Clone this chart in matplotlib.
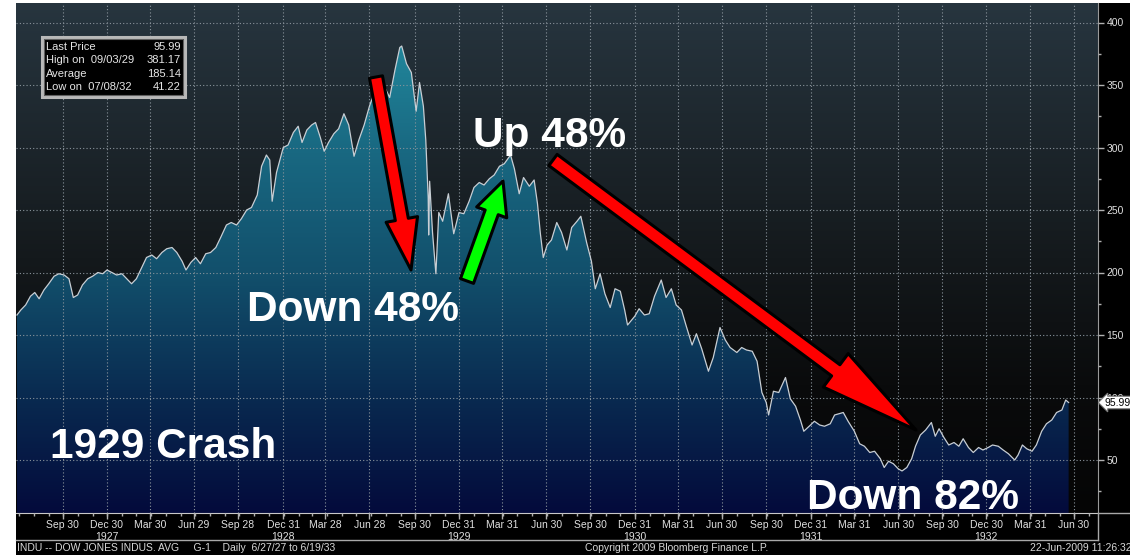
import matplotlib
matplotlib.use("Agg")
import matplotlib.pyplot as plt
import matplotlib.dates as mdates
import numpy as np
import pandas as pd
from matplotlib.colors import LinearSegmentedColormap
from matplotlib.patches import Rectangle
from matplotlib.lines import Line2D

W, H = 1130, 555

# Dow Jones Industrial Average
dates = [
    "1927-06-27", "1927-07-05", "1927-07-15", "1927-07-25", "1927-08-03", "1927-08-12",
    "1927-08-22", "1927-09-01", "1927-09-12", "1927-09-22", "1927-10-03", "1927-10-13",
    "1927-10-22", "1927-10-31", "1927-11-10", "1927-11-21", "1927-12-01", "1927-12-12",
    "1927-12-22", "1927-12-31", "1928-01-10", "1928-01-20", "1928-01-31", "1928-02-10",
    "1928-02-20", "1928-03-01", "1928-03-12", "1928-03-22", "1928-04-02", "1928-04-12",
    "1928-04-23", "1928-05-03", "1928-05-14", "1928-05-24", "1928-06-04", "1928-06-12",
    "1928-06-22", "1928-07-02", "1928-07-12", "1928-07-23", "1928-08-02", "1928-08-13",
    "1928-08-23", "1928-09-04", "1928-09-14", "1928-09-25", "1928-10-05", "1928-10-16",
    "1928-10-26", "1928-11-07", "1928-11-16", "1928-11-26", "1928-12-03", "1928-12-08",
    "1928-12-17", "1928-12-31", "1929-01-10", "1929-01-21", "1929-01-31", "1929-02-08",
    "1929-02-18", "1929-02-28", "1929-03-08", "1929-03-18", "1929-03-26", "1929-04-04",
    "1929-04-15", "1929-04-25", "1929-05-06", "1929-05-16", "1929-05-27", "1929-06-06",
    "1929-06-17", "1929-06-28", "1929-07-09", "1929-07-19", "1929-07-30", "1929-08-09",
    "1929-08-20", "1929-08-30", "1929-09-03", "1929-09-13", "1929-09-23", "1929-10-03",
    "1929-10-10", "1929-10-18", "1929-10-23", "1929-10-28", "1929-10-29", "1929-10-31",
    "1929-11-06", "1929-11-13", "1929-11-19", "1929-11-27", "1929-12-09", "1929-12-20",
    "1929-12-31", "1930-01-10", "1930-01-21", "1930-01-31", "1930-02-11", "1930-02-21",
    "1930-03-04", "1930-03-14", "1930-03-25", "1930-04-04", "1930-04-17", "1930-04-25",
    "1930-05-05", "1930-05-14", "1930-05-26", "1930-06-05", "1930-06-12", "1930-06-18",
    "1930-06-24", "1930-07-02", "1930-07-11", "1930-07-22", "1930-08-01", "1930-08-12",
    "1930-08-22", "1930-09-02", "1930-09-10", "1930-09-22", "1930-10-02", "1930-10-10",
    "1930-10-20", "1930-10-30", "1930-11-10", "1930-11-20", "1930-12-01", "1930-12-10",
    "1930-12-16", "1930-12-31", "1931-01-09", "1931-01-20", "1931-01-30", "1931-02-10",
    "1931-02-24", "1931-03-06", "1931-03-17", "1931-03-27", "1931-04-07", "1931-04-17",
    "1931-04-29", "1931-05-08", "1931-05-19", "1931-06-02", "1931-06-12", "1931-06-26",
    "1931-07-07", "1931-07-17", "1931-07-31", "1931-08-10", "1931-08-20", "1931-09-01",
    "1931-09-11", "1931-09-21", "1931-09-30", "1931-10-05", "1931-10-15", "1931-10-26",
    "1931-11-09", "1931-11-19", "1931-11-30", "1931-12-10", "1931-12-17", "1931-12-31",
    "1932-01-08", "1932-01-19", "1932-01-29", "1932-02-10", "1932-02-19", "1932-03-08",
    "1932-03-18", "1932-03-31", "1932-04-11", "1932-04-21", "1932-05-02", "1932-05-12",
    "1932-05-24", "1932-06-01", "1932-06-10", "1932-06-20", "1932-06-30", "1932-07-08",
    "1932-07-18", "1932-07-28", "1932-08-05", "1932-08-15", "1932-08-26", "1932-09-07",
    "1932-09-15", "1932-09-23", "1932-10-03", "1932-10-13", "1932-10-24", "1932-11-03",
    "1932-11-12", "1932-11-23", "1932-12-03", "1932-12-14", "1932-12-23", "1933-01-03",
    "1933-01-12", "1933-01-24", "1933-02-03", "1933-02-14", "1933-02-27", "1933-03-06",
    "1933-03-15", "1933-03-24", "1933-04-04", "1933-04-13", "1933-04-24", "1933-05-04",
    "1933-05-15", "1933-05-25", "1933-06-05", "1933-06-13", "1933-06-19",
]
closes = [
    166, 170, 174, 181, 184, 179,
    186, 191, 197, 199, 198, 195,
    180, 182, 190, 195, 197, 200,
    199, 202, 200, 198, 199, 195,
    191, 195, 204, 212, 214, 211,
    216, 219, 220, 216, 209, 202,
    208, 212, 207, 215, 216, 220,
    228, 238, 240, 238, 243, 250,
    252, 262, 285, 294, 290, 257,
    280, 300, 302, 312, 317, 304,
    314, 318, 320, 308, 297, 304,
    311, 315, 327, 318, 293, 306,
    318, 333, 345, 343, 348, 340,
    362, 380, 381.17, 367, 360, 329,
    352, 333, 306, 260, 230, 273,
    232, 199, 248, 241, 263, 231,
    248, 247, 257, 268, 272, 270,
    275, 278, 285, 287, 294, 283,
    263, 276, 269, 274, 255, 231,
    212, 222, 226, 240, 232, 218,
    236, 241, 245, 224, 209, 187,
    199, 183, 172, 187, 185, 170,
    158, 165, 171, 166, 167, 181,
    194, 180, 187, 174, 170, 157,
    142, 151, 139, 121, 132, 156,
    146, 140, 136, 140, 138, 137,
    129, 104, 96, 86, 105, 104,
    116, 99, 93, 82, 73, 78,
    81, 78, 77, 79, 86, 88,
    81, 73, 63, 61, 56, 57,
    51, 44, 49, 47, 43, 41.22,
    44, 51, 61, 70, 74, 80,
    69, 75, 68, 62, 64, 61,
    67, 60, 56, 60, 58, 60,
    62, 61, 58, 55, 50, 54,
    62, 59, 57, 62, 73, 79,
    82, 88, 90, 98, 95.99,
]

tick_dates = [
    "1927-09-30", "1927-12-30", "1928-03-30", "1928-06-29", "1928-09-28", "1928-12-31",
    "1929-03-28", "1929-06-28", "1929-09-30", "1929-12-31", "1930-03-31", "1930-06-30",
    "1930-09-30", "1930-12-31", "1931-03-31", "1931-06-30", "1931-09-30", "1931-12-31",
    "1932-03-31", "1932-06-30", "1932-09-30", "1932-12-30", "1933-03-31", "1933-06-30",
]
tick_labels = [
    "Sep 30", "Dec 30\n1927", "Mar 30", "Jun 29", "Sep 28", "Dec 31\n1928",
    "Mar 28", "Jun 28", "Sep 30", "Dec 31\n1929", "Mar 31", "Jun 30",
    "Sep 30", "Dec 31\n1930", "Mar 31", "Jun 30", "Sep 30", "Dec 31\n1931",
    "Mar 31", "Jun 30", "Sep 30", "Dec 30\n1932", "Mar 31", "Jun 30",
]
y_ticks = [50, 100, 150, 200, 250, 300, 350, 400]

info_rows = [
    ("Last Price", "95.99"),
    ("High on  09/03/29", "381.17"),
    ("Average", "185.14"),
    ("Low on  07/08/32", "41.22"),
]

plt.rcParams['font.family'] = ['Liberation Sans', 'DejaVu Sans']


def fx(x):
    return x / W


def fy(y):
    return 1 - y / H


fig = plt.figure(figsize=(W / 100, H / 100), dpi=100, facecolor='white')
fig.patches.append(Rectangle((fx(16), 0), 1 - fx(16), 1 - 3 / H,
                             transform=fig.transFigure, facecolor='black',
                             edgecolor='none', zorder=-10))

ax = fig.add_axes([fx(16), fy(513), (1098 - 16) / W, 510 / H])
ax.set_facecolor('black')

x = mdates.date2num(pd.to_datetime(dates))
x0 = mdates.date2num(pd.Timestamp("1927-06-25"))
x1 = mdates.date2num(pd.Timestamp("1933-08-19"))
y0, y1 = 7.6, 415.6

# background gradient
bg_cmap = LinearSegmentedColormap.from_list(
    'bg', [(0, '#050505'), (0.25, '#0a0b0c'), (0.5, '#14191c'), (1.0, '#27353f')])
grad = np.linspace(0, 1, 256).reshape(-1, 1)
ax.imshow(grad, extent=[x0, x1, y0, y1], origin='lower', aspect='auto',
          cmap=bg_cmap, zorder=0)

# area fill with vertical gradient
fill_cmap = LinearSegmentedColormap.from_list(
    'fill', [(0, '#03083a'), (0.25, '#092a50'), (0.5, '#12506c'),
             (0.75, '#196982'), (1.0, '#238ca0')])
poly = ax.fill_between(x, closes, 0, facecolor='none', edgecolor='none')
im = ax.imshow(grad, extent=[x0, x1, 0, 400], origin='lower', aspect='auto',
               cmap=fill_cmap, zorder=1)
im.set_clip_path(poly.get_paths()[0], transform=ax.transData)

ax.plot(x, closes, color='#c8ced4', lw=0.9, zorder=3)

ax.set_xlim(x0, x1)
ax.set_ylim(y0, y1)

ax.yaxis.tick_right()
ax.set_yticks(y_ticks)
ax.set_yticks([v + 25 for v in [0] + y_ticks[:-1]], minor=True)
ax.set_xticks(mdates.date2num(pd.to_datetime(tick_dates)))
ax.set_xticklabels(tick_labels)
ax.xaxis.set_minor_locator(mdates.MonthLocator())
ax.tick_params(axis='both', which='major', color='#b0b0b0', labelcolor='#e0e0e0',
               labelsize=7.5, length=4, width=1, direction='out')
ax.tick_params(axis='both', which='minor', color='#b0b0b0', length=2, width=1)
ax.tick_params(axis='x', pad=1)
ax.tick_params(axis='y', pad=2)
ax.grid(True, which='major', color='#8a949c', linestyle=(0, (1, 2)), lw=0.8)
ax.set_axisbelow(False)
for s in ['top', 'left']:
    ax.spines[s].set_visible(False)
ax.spines['bottom'].set_color('#c8c8c8')
ax.spines['right'].set_color('#9a9a9a')

# last price tag
ax.annotate(info_rows[0][1], xy=(1, closes[-1]), xycoords=('axes fraction', 'data'),
            xytext=(5, 0), textcoords='offset points', ha='left', va='center',
            fontsize=7.5, color='black', annotation_clip=False, zorder=10,
            bbox=dict(boxstyle='larrow,pad=0.12', fc='white', ec='#808080', lw=0.8))

# frame lines below the plot
line_c = '#a8a8a8'
fig.add_artist(Line2D([fx(16), fx(1098)], [fy(540), fy(540)], color=line_c, lw=1,
                      transform=fig.transFigure))
fig.add_artist(Line2D([fx(1098), fx(1098)], [fy(513), fy(540)], color=line_c, lw=1,
                      transform=fig.transFigure))
fig.add_artist(Line2D([fx(1098), 1], [fy(513), fy(513)], color=line_c, lw=1,
                      transform=fig.transFigure))

# info box
fig.patches.append(Rectangle((fx(42), fy(97)), (185 - 42) / W, 60 / H,
                             transform=fig.transFigure, facecolor='black',
                             edgecolor='#b8b8b8', lw=2.2, zorder=5))
fig.patches.append(Rectangle((fx(44), fy(95)), (183 - 44) / W, 56 / H,
                             transform=fig.transFigure, facecolor='none',
                             edgecolor='#606060', lw=0.8, zorder=5))
for i, (lab, val) in enumerate(info_rows):
    yy = fy(47 + 13.3 * i)
    fig.text(fx(46), yy, lab, ha='left', va='center', fontsize=8, color='#e6e6e6', zorder=6)
    fig.text(fx(181), yy, val, ha='right', va='center', fontsize=8, color='#e6e6e6', zorder=6)

# arrows
arrows = [
    ((376, 77), (411, 270), '#ff0000', 0.95, 2.3, 3.7),
    ((467, 281), (503, 181), '#00ff00', 1.0, 2.3, 2.4),
    ((553, 160), (916, 430), '#ff0000', 1.0, 3.0, 7.2),
]
for tail, tip, col, tw, hw, hl in arrows:
    ax.annotate('', xy=(tip[0], H - tip[1]), xycoords='figure pixels',
                xytext=(tail[0], H - tail[1]), textcoords='figure pixels',
                annotation_clip=False, zorder=7,
                arrowprops=dict(arrowstyle=f'simple,head_length={hl},head_width={hw},tail_width={tw}',
                                mutation_scale=10, fc=col, ec='black', lw=2.2,
                                shrinkA=0, shrinkB=0))

# big labels
big = dict(fontsize=30.5, fontweight='bold', color='white', ha='left', va='baseline', zorder=8)
fig.text(fx(247), fy(321), "Down 48%", **big)
fig.text(fx(473), fy(147), "Up 48%", **big)
fig.text(fx(50), fy(458), "1929 Crash", **big)
fig.text(fx(807), fy(509), "Down 82%", **big)

# footer
foot = dict(fontsize=7.5, color='#d8d8d8', va='center')
fig.text(fx(17), fy(548), "INDU -- DOW JONES INDUS. AVG     G-1    Daily  6/27/27 to 6/19/33",
         ha='left', **foot)
fig.text(fx(585), fy(548), "Copyright 2009 Bloomberg Finance L.P.", ha='left', **foot)
fig.text(fx(1132), fy(548), "22-Jun-2009 11:26:32", ha='right', **foot)

fig.savefig("out.png", dpi=100, facecolor=fig.get_facecolor())
